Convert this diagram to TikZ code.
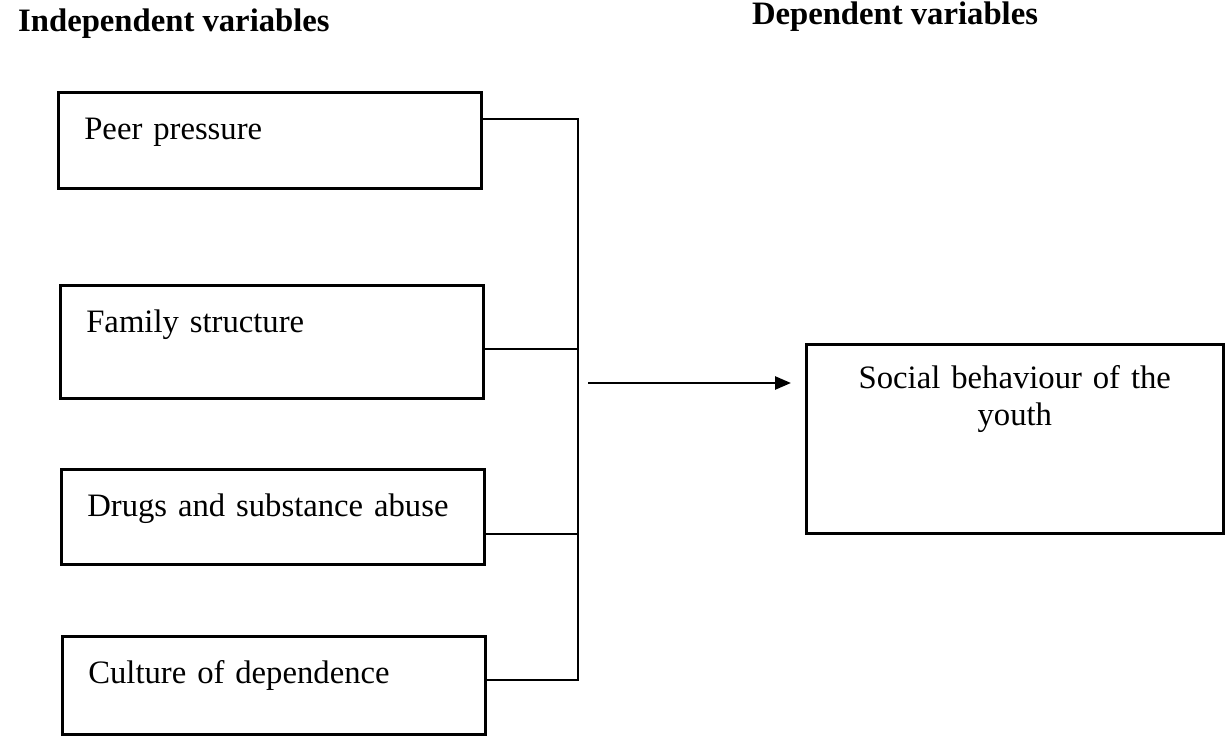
\documentclass[tikz,border=0pt]{standalone}
\usepackage{fontspec}
\setmainfont{Liberation Serif}
\usetikzlibrary{arrows.meta}
\newcommand{\diagfont}{\fontsize{18.6}{21.3}\selectfont}
\begin{document}
\begin{tikzpicture}[
    every node/.style={font=\diagfont},
    varbox/.style={draw, line width=1.5pt, anchor=north west, text width=7.42cm, align=left,
      inner xsep=0.52cm, inner ysep=0.5cm, text height=0.44cm, text depth=#1},
    resbox/.style={draw, line width=1.5pt, anchor=north west, text width=7.4cm, align=center,
      inner xsep=0.47cm, inner ysep=0.44cm, text height=0.44cm, text depth=#1},
    link/.style={line width=1.5pt},
    heading/.style={anchor=base west, font=\diagfont\bfseries}
  ]
  \useasboundingbox (0,0) rectangle (24.54,14.74);

  \node[heading] (indep) at (0.24,14.10) {Independent variables};
  \node[heading, anchor=base] (dep) at (17.90,14.24) {Dependent variables};

  \node[varbox=0.48cm] (peer) at (1.14,12.92) {Peer pressure};
  \node[varbox=0.82cm] (family) at (1.18,9.06) {Family structure};
  \node[varbox=0.46cm] (drugs) at (1.20,5.38) {Drugs and substance abuse};
  \node[varbox=0.52cm] (culture) at (1.22,2.04) {Culture of dependence};
  \node[resbox=2.46cm] (youth) at (16.10,7.88) {Social behaviour of the\\youth};

  \coordinate (jpeer) at (11.56,12.36);
  \coordinate (jfamily) at (11.56,7.76);
  \coordinate (jdrugs) at (11.56,4.06);
  \coordinate (jculture) at (11.56,1.14);
  \coordinate (astart) at (11.76,7.08);

  \draw[link] (jpeer -| peer.east) -- (jpeer) -- (jculture) -- (jculture -| culture.east);
  \draw[link] (jfamily -| family.east) -- (jfamily);
  \draw[link] (jdrugs -| drugs.east) -- (jdrugs);
  \draw[link, -{Triangle[length=0.32cm,width=0.26cm]}, shorten >=0.28cm] (astart) -- (astart -| youth.west);
\end{tikzpicture}
\end{document}
